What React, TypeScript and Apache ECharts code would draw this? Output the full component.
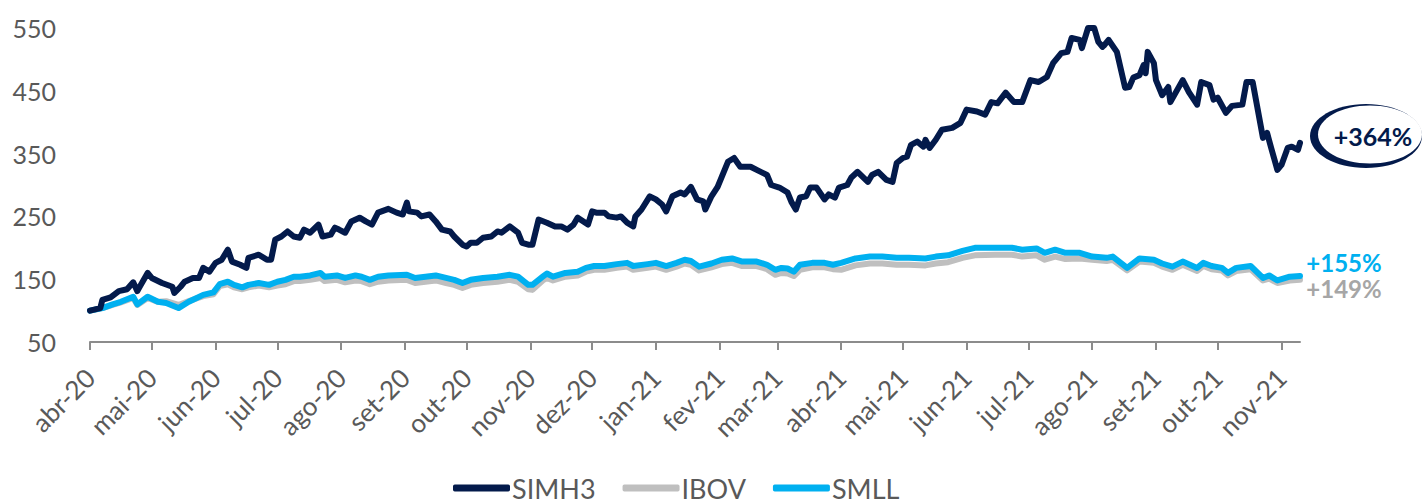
import React, { useEffect, useRef } from "react";
import * as echarts from "echarts";

const MONTHS_PT = ["jan", "fev", "mar", "abr", "mai", "jun", "jul", "ago", "set", "out", "nov", "dez"];
const AXIS_START = "2020-04-01";
const AXIS_END = "2021-11-10";
const Y_MIN = 50;
const Y_MAX = 550;
const Y_STEP = 100;
const SERIES_NAMES = ["SIMH3", "IBOV", "SMLL"];
const END_LABELS = ["+364%", "+155%", "+149%"];

const simh3Dates = [
  "2020-04-01", "2020-04-06", "2020-04-07", "2020-04-11", "2020-04-15", "2020-04-19", "2020-04-22", "2020-04-24", "2020-04-25", "2020-04-29",
  "2020-05-01", "2020-05-06", "2020-05-11", "2020-05-12", "2020-05-15", "2020-05-17", "2020-05-21", "2020-05-24", "2020-05-26", "2020-05-29",
  "2020-06-01", "2020-06-04", "2020-06-07", "2020-06-09", "2020-06-13", "2020-06-16", "2020-06-17", "2020-06-22", "2020-06-26", "2020-06-28",
  "2020-06-30", "2020-07-03", "2020-07-06", "2020-07-09", "2020-07-12", "2020-07-14", "2020-07-17", "2020-07-21", "2020-07-23", "2020-07-27",
  "2020-07-29", "2020-07-31", "2020-08-03", "2020-08-06", "2020-08-10", "2020-08-13", "2020-08-16", "2020-08-19", "2020-08-24", "2020-08-28",
  "2020-08-31", "2020-09-02", "2020-09-03", "2020-09-07", "2020-09-09", "2020-09-13", "2020-09-16", "2020-09-19", "2020-09-23", "2020-09-25",
  "2020-09-29", "2020-10-01", "2020-10-03", "2020-10-06", "2020-10-09", "2020-10-13", "2020-10-16", "2020-10-18", "2020-10-22", "2020-10-26",
  "2020-10-28", "2020-10-31", "2020-11-02", "2020-11-05", "2020-11-09", "2020-11-13", "2020-11-16", "2020-11-19", "2020-11-22", "2020-11-24",
  "2020-11-29", "2020-12-01", "2020-12-03", "2020-12-07", "2020-12-09", "2020-12-13", "2020-12-15", "2020-12-18", "2020-12-21", "2020-12-22",
  "2020-12-25", "2020-12-29", "2021-01-01", "2021-01-04", "2021-01-06", "2021-01-09", "2021-01-13", "2021-01-15", "2021-01-18", "2021-01-21",
  "2021-01-24", "2021-01-25", "2021-01-28", "2021-01-31", "2021-02-02", "2021-02-05", "2021-02-08", "2021-02-11", "2021-02-16", "2021-02-19",
  "2021-02-24", "2021-02-26", "2021-03-02", "2021-03-06", "2021-03-08", "2021-03-10", "2021-03-12", "2021-03-15", "2021-03-17", "2021-03-20",
  "2021-03-24", "2021-03-26", "2021-03-29", "2021-03-31", "2021-04-04", "2021-04-06", "2021-04-09", "2021-04-14", "2021-04-16", "2021-04-19",
  "2021-04-23", "2021-04-26", "2021-04-28", "2021-05-01", "2021-05-03", "2021-05-05", "2021-05-08", "2021-05-11", "2021-05-12", "2021-05-14",
  "2021-05-17", "2021-05-20", "2021-05-25", "2021-05-29", "2021-06-01", "2021-06-06", "2021-06-10", "2021-06-13", "2021-06-16", "2021-06-20",
  "2021-06-24", "2021-06-28", "2021-07-02", "2021-07-06", "2021-07-10", "2021-07-13", "2021-07-17", "2021-07-20", "2021-07-22", "2021-07-26",
  "2021-07-27", "2021-07-30", "2021-08-02", "2021-08-04", "2021-08-06", "2021-08-07", "2021-08-09", "2021-08-13", "2021-08-17", "2021-08-19",
  "2021-08-21", "2021-08-24", "2021-08-26", "2021-08-27", "2021-08-28", "2021-08-31", "2021-09-01", "2021-09-04", "2021-09-07", "2021-09-08",
  "2021-09-14", "2021-09-17", "2021-09-21", "2021-09-23", "2021-09-27", "2021-09-29", "2021-10-01", "2021-10-05", "2021-10-08", "2021-10-13",
  "2021-10-15", "2021-10-18", "2021-10-23", "2021-10-25", "2021-10-27", "2021-10-30", "2021-11-01", "2021-11-04", "2021-11-06", "2021-11-09",
  "2021-11-10",
];
const simh3Values = [
  100, 104, 117, 121, 131, 134, 145, 131, 137, 160,
  152, 144, 138, 128, 138, 146, 152, 152, 168, 162,
  176, 181, 197, 178, 173, 168, 184, 189, 181, 181,
  213, 218, 226, 218, 216, 229, 224, 237, 218, 221,
  232, 229, 224, 242, 248, 242, 237, 256, 262, 256,
  253, 272, 258, 256, 250, 253, 242, 229, 226, 218,
  205, 202, 208, 208, 216, 218, 226, 224, 234, 224,
  208, 205, 205, 245, 240, 234, 234, 229, 237, 248,
  237, 258, 256, 256, 250, 248, 250, 240, 234, 250,
  261, 282, 277, 269, 258, 282, 288, 285, 297, 277,
  274, 261, 282, 297, 313, 337, 343, 329, 329, 324,
  316, 300, 296, 288, 272, 261, 280, 282, 296, 296,
  277, 285, 280, 296, 300, 312, 321, 305, 316, 321,
  308, 305, 335, 343, 345, 364, 369, 361, 372, 359,
  372, 388, 391, 399, 420, 417, 412, 432, 430, 447,
  432, 432, 467, 464, 472, 494, 510, 512, 534, 531,
  518, 550, 550, 528, 520, 523, 531, 512, 455, 456,
  471, 475, 491, 478, 512, 494, 467, 443, 456, 432,
  467, 448, 428, 464, 459, 436, 439, 415, 426, 428,
  464, 464, 375, 383, 359, 324, 332, 359, 361, 356,
  367,
];

const smllDates = [
  "2020-04-01", "2020-04-07", "2020-04-12", "2020-04-16", "2020-04-22", "2020-04-24", "2020-04-29", "2020-05-04", "2020-05-08", "2020-05-14",
  "2020-05-19", "2020-05-26", "2020-05-31", "2020-06-03", "2020-06-07", "2020-06-10", "2020-06-14", "2020-06-17", "2020-06-22", "2020-06-27",
  "2020-07-01", "2020-07-05", "2020-07-09", "2020-07-12", "2020-07-17", "2020-07-22", "2020-07-24", "2020-07-30", "2020-08-03", "2020-08-08",
  "2020-08-11", "2020-08-15", "2020-08-19", "2020-08-24", "2020-09-02", "2020-09-06", "2020-09-11", "2020-09-16", "2020-09-21", "2020-09-25",
  "2020-09-29", "2020-10-03", "2020-10-09", "2020-10-16", "2020-10-22", "2020-10-26", "2020-10-31", "2020-11-02", "2020-11-07", "2020-11-09",
  "2020-11-12", "2020-11-18", "2020-11-24", "2020-11-28", "2020-12-02", "2020-12-07", "2020-12-13", "2020-12-18", "2020-12-21", "2020-12-28",
  "2021-01-01", "2021-01-06", "2021-01-11", "2021-01-15", "2021-01-18", "2021-01-22", "2021-01-28", "2021-02-02", "2021-02-07", "2021-02-12",
  "2021-02-19", "2021-02-24", "2021-02-28", "2021-03-03", "2021-03-06", "2021-03-09", "2021-03-12", "2021-03-18", "2021-03-24", "2021-03-28",
  "2021-04-01", "2021-04-08", "2021-04-15", "2021-04-21", "2021-04-28", "2021-05-04", "2021-05-12", "2021-05-17", "2021-05-23", "2021-05-30",
  "2021-06-05", "2021-06-15", "2021-06-23", "2021-06-28", "2021-07-05", "2021-07-09", "2021-07-14", "2021-07-19", "2021-07-26", "2021-08-01",
  "2021-08-08", "2021-08-11", "2021-08-18", "2021-08-24", "2021-08-31", "2021-09-04", "2021-09-09", "2021-09-14", "2021-09-21", "2021-09-24",
  "2021-09-28", "2021-10-03", "2021-10-06", "2021-10-10", "2021-10-17", "2021-10-23", "2021-10-26", "2021-10-30", "2021-11-05", "2021-11-10",
];
const smllValues = [
  100, 104, 110, 114, 122, 110, 122, 114, 112, 104,
  114, 125, 129, 142, 146, 141, 137, 141, 144, 141,
  146, 149, 154, 154, 156, 160, 154, 156, 152, 156,
  154, 149, 154, 156, 157, 152, 154, 156, 152, 149,
  144, 149, 152, 154, 157, 154, 141, 141, 154, 159,
  154, 160, 162, 168, 171, 171, 174, 176, 171, 174,
  176, 171, 176, 181, 179, 170, 175, 181, 183, 178,
  178, 173, 165, 168, 167, 162, 173, 176, 176, 173,
  176, 183, 186, 186, 184, 184, 183, 186, 188, 195,
  200, 200, 200, 197, 199, 192, 197, 192, 192, 186,
  184, 186, 168, 183, 181, 175, 170, 178, 168, 176,
  171, 168, 160, 168, 171, 152, 156, 148, 154, 155,
];

// IBOV read at the same dates as SMLL
const ibovValues = [
  100, 104, 109, 113, 120, 109, 120, 114, 115, 109,
  115, 123, 126, 139, 142, 137, 134, 137, 140, 137,
  140, 142, 147, 147, 149, 152, 147, 149, 145, 148,
  147, 142, 146, 148, 149, 144, 146, 148, 144, 141,
  136, 141, 144, 146, 149, 146, 134, 133, 148, 152,
  148, 154, 156, 162, 165, 165, 168, 170, 165, 168,
  170, 165, 170, 175, 173, 164, 169, 174, 176, 171,
  171, 166, 157, 160, 159, 155, 165, 169, 169, 166,
  165, 172, 175, 175, 173, 173, 172, 175, 177, 184,
  188, 189, 189, 186, 188, 181, 186, 182, 183, 181,
  179, 181, 164, 178, 176, 170, 165, 173, 163, 171,
  166, 164, 156, 163, 166, 148, 151, 144, 148, 149,
];

const COLORS = { simh3: "#031A4B", ibov: "#BFBFBF", smll: "#00B0F0", text: "#595959", axis: "#8C8C8C", ibovText: "#A6A6A6" };

function buildDays(start: string, end: string): string[] {
  const out: string[] = [];
  let t = Date.parse(start + "T00:00:00Z");
  const e = Date.parse(end + "T00:00:00Z");
  while (t <= e) {
    out.push(new Date(t).toISOString().slice(0, 10));
    t += 86400000;
  }
  return out;
}

function toSeries(days: string[], dates: string[], values: number[]) {
  const idx: Record<string, number> = {};
  days.forEach((d, i) => (idx[d] = i));
  const arr: (number | null)[] = days.map(() => null);
  dates.forEach((d, i) => {
    if (idx[d] !== undefined && values[i] !== undefined) arr[idx[d]] = values[i];
  });
  return arr;
}

const isMonthStart = (_i: number, v: string) => v.slice(8, 10) === "01";

export default function App() {
  const ref = useRef<HTMLDivElement>(null);
  useEffect(() => {
    if (!ref.current) return;
    const chart = echarts.init(ref.current, null, { renderer: "svg" });
    const days = buildDays(AXIS_START, AXIS_END);
    const font = "Lato, 'Open Sans', sans-serif";
    const lineSeries = (name: string, color: string, data: (number | null)[], z: number) => ({
      name,
      type: "line",
      data,
      connectNulls: true,
      symbol: "none",
      showSymbol: false,
      z,
      lineStyle: { color, width: 6, join: "round", cap: "round" },
      itemStyle: { color },
    });
    chart.setOption({
      animation: false,
      grid: { left: 90, right: 124, top: 28, bottom: 159, containLabel: false },
      legend: {
        data: SERIES_NAMES,
        top: 474,
        left: 453,
        icon: "roundRect",
        itemWidth: 57,
        itemHeight: 7,
        itemGap: 27,
        padding: 0,
        textStyle: { fontSize: 27, color: COLORS.text, fontFamily: font, lineHeight: 28, padding: [0, 0, 0, -3] },
      },
      xAxis: {
        type: "category",
        data: days,
        boundaryGap: false,
        axisLine: { lineStyle: { color: COLORS.axis, width: 2 } },
        axisTick: { interval: isMonthStart, length: 8, lineStyle: { color: COLORS.axis, width: 2 } },
        axisLabel: {
          interval: isMonthStart,
          rotate: 45,
          margin: 31,
          fontSize: 26,
          color: COLORS.text,
          fontFamily: font,
          formatter: (v: string) => `${MONTHS_PT[parseInt(v.slice(5, 7), 10) - 1]}-${v.slice(2, 4)}`,
        },
        splitLine: { show: false },
      },
      yAxis: {
        type: "value",
        min: Y_MIN,
        max: Y_MAX,
        interval: Y_STEP,
        axisLine: { show: false },
        axisTick: { show: false },
        splitLine: { show: false },
        axisLabel: { fontSize: 25, color: COLORS.text, fontFamily: font, margin: 34 },
      },
      series: [
        lineSeries(SERIES_NAMES[0], COLORS.simh3, toSeries(days, simh3Dates, simh3Values), 4),
        lineSeries(SERIES_NAMES[1], COLORS.ibov, toSeries(days, smllDates, ibovValues), 2),
        lineSeries(SERIES_NAMES[2], COLORS.smll, toSeries(days, smllDates, smllValues), 3),
      ],
      graphic: [
        { type: "ellipse", z: 10, shape: { cx: 1366, cy: 136, rx: 56, ry: 32 }, style: { fill: COLORS.simh3 } },
        { type: "ellipse", z: 11, shape: { cx: 1370, cy: 134.5, rx: 52, ry: 29 }, style: { fill: "#ffffff" } },
        {
          type: "text", z: 12, x: 1373, y: 136,
          style: { text: END_LABELS[0], fill: COLORS.simh3, font: `bold 25px ${font}`, textAlign: "center", textVerticalAlign: "middle" },
        },
        {
          type: "text", z: 12, x: 1344, y: 262,
          style: { text: END_LABELS[1], fill: COLORS.smll, font: `bold 24px ${font}`, textAlign: "center", textVerticalAlign: "middle" },
        },
        {
          type: "text", z: 12, x: 1344, y: 288,
          style: { text: END_LABELS[2], fill: COLORS.ibovText, font: `bold 24px ${font}`, textAlign: "center", textVerticalAlign: "middle" },
        },
      ],
    });
    return () => chart.dispose();
  }, []);
  return <div ref={ref} style={{ position: "absolute", left: 0, top: 0, width: 1424, height: 501 }} />;
}
